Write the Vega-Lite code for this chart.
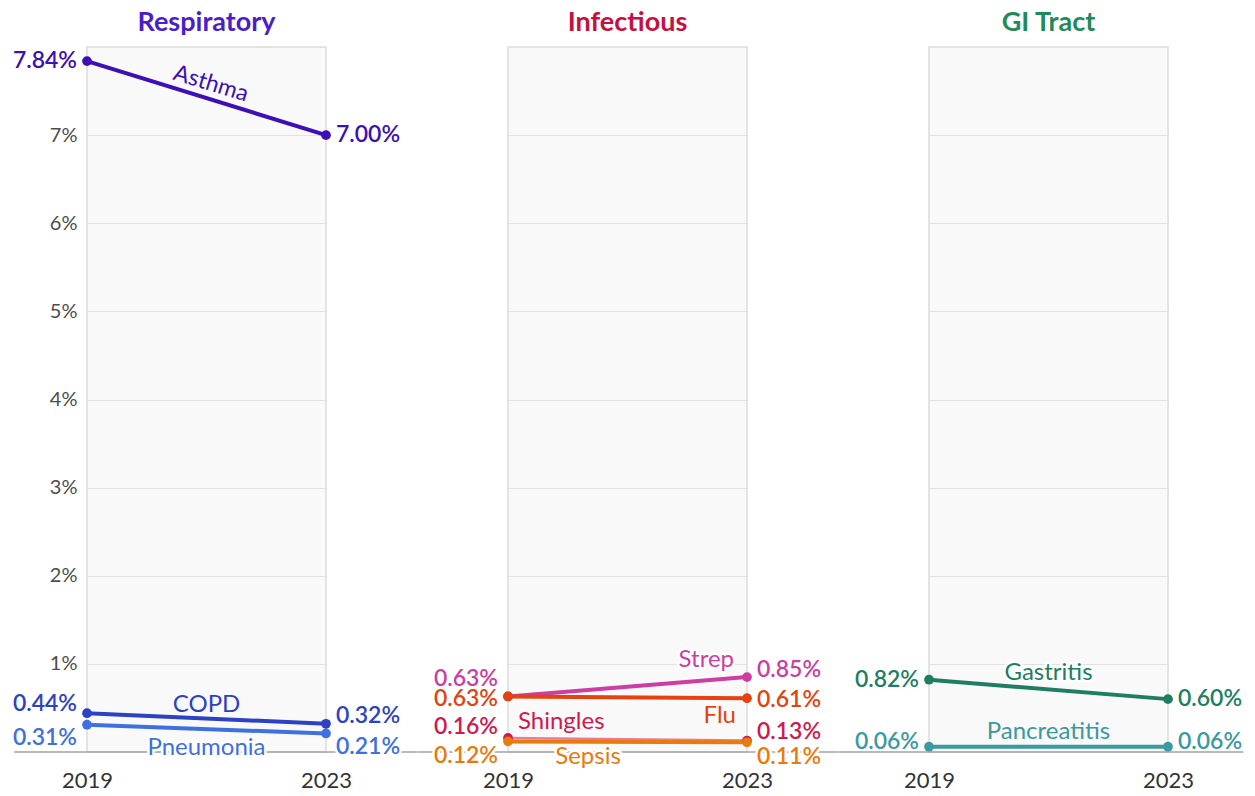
{
  "$schema": "https://vega.github.io/schema/vega-lite/v6.json",
  "padding": {"left": 12, "top": 8, "right": 5, "bottom": 3},
  "background": "white",
  "datasets": {
    "rates": [
      {"group": "Respiratory", "series": "Asthma", "year": 2019, "rate": 0.0784},
      {"group": "Respiratory", "series": "Asthma", "year": 2023, "rate": 0.0700},
      {"group": "Respiratory", "series": "Pneumonia", "year": 2019, "rate": 0.0031},
      {"group": "Respiratory", "series": "Pneumonia", "year": 2023, "rate": 0.0021},
      {"group": "Respiratory", "series": "COPD", "year": 2019, "rate": 0.0044},
      {"group": "Respiratory", "series": "COPD", "year": 2023, "rate": 0.0032},
      {"group": "Infectious", "series": "Strep", "year": 2019, "rate": 0.0063},
      {"group": "Infectious", "series": "Strep", "year": 2023, "rate": 0.0085},
      {"group": "Infectious", "series": "Shingles", "year": 2019, "rate": 0.0016},
      {"group": "Infectious", "series": "Shingles", "year": 2023, "rate": 0.0013},
      {"group": "Infectious", "series": "Flu", "year": 2019, "rate": 0.0063},
      {"group": "Infectious", "series": "Flu", "year": 2023, "rate": 0.0061},
      {"group": "Infectious", "series": "Sepsis", "year": 2019, "rate": 0.0012},
      {"group": "Infectious", "series": "Sepsis", "year": 2023, "rate": 0.0011},
      {"group": "GI Tract", "series": "Pancreatitis", "year": 2019, "rate": 0.0006},
      {"group": "GI Tract", "series": "Pancreatitis", "year": 2023, "rate": 0.0006},
      {"group": "GI Tract", "series": "Gastritis", "year": 2019, "rate": 0.0082},
      {"group": "GI Tract", "series": "Gastritis", "year": 2023, "rate": 0.0060}
    ]
  },
  "spacing": 182,
  "bounds": "flush",
  "hconcat": [
    {
      "width": 239,
      "height": 705,
      "title": {"text": "Respiratory", "color": "#4a1ec8", "fontSize": 27, "fontWeight": "bold", "frame": "group", "anchor": "middle", "offset": 10},
      "layer": [
        {
          "data": {"values": [{}]},
          "mark": {"type": "rule", "color": "#a3a3a3", "strokeWidth": 1.5},
          "encoding": {
            "x": {"datum": 2017.78, "type": "quantitative", "title": null, "scale": {"domain": [2019, 2023]}},
            "x2": {"datum": 2024.52},
            "y": {"datum": 0, "type": "quantitative", "title": null, "scale": {"domain": [0, 0.08], "nice": false}}
          }
        },
        {
          "data": {"name": "rates"},
          "transform": [{"filter": "datum.group == 'Respiratory'"}],
          "encoding": {
            "x": {"field": "year", "type": "quantitative", "title": null, "scale": {"domain": [2019, 2023]},
              "axis": {"values": [2019, 2023], "format": "d", "domain": false, "ticks": false, "grid": false, "labelFontSize": 22, "labelColor": "#333333", "labelPadding": 18, "labelFlush": false, "labelOverlap": false}},
            "y": {"field": "rate", "type": "quantitative", "title": null, "scale": {"domain": [0, 0.08], "nice": false},
              "axis": {"values": [0.01, 0.02, 0.03, 0.04, 0.05, 0.06, 0.07], "format": ".0%", "domain": false, "ticks": false, "grid": true, "gridColor": "#e1e1e1", "labelFontSize": 20, "labelColor": "#4d4d4d", "labelPadding": 10}},
            "color": {"field": "series", "type": "nominal", "legend": null,
              "scale": {"domain": ["Asthma", "COPD", "Pneumonia", "Strep", "Flu", "Shingles", "Sepsis", "Gastritis", "Pancreatitis"],
                "range": ["#3c10b4", "#2c42c2", "#3e70e0", "#cc3ea2", "#e5420f", "#d2194f", "#ea7a0c", "#1e7e62", "#3a9aa0"]}}
          },
          "layer": [
            {"mark": {"type": "line", "strokeWidth": 4}},
            {"mark": {"type": "point", "filled": true, "size": 95, "opacity": 1}},
            {"transform": [{"filter": "datum.year == 2019 && datum.series == 'Asthma'"}], "mark": {"type": "text", "align": "right", "dx": -10, "dy": 0, "fontSize": 23, "fontWeight": 600}, "encoding": {"text": {"field": "rate", "format": ".2%"}}},
            {"transform": [{"filter": "datum.year == 2019 && datum.series == 'COPD'"}], "mark": {"type": "text", "align": "right", "dx": -10, "dy": -9, "fontSize": 23, "fontWeight": 600}, "encoding": {"text": {"field": "rate", "format": ".2%"}}},
            {"transform": [{"filter": "datum.year == 2019 && datum.series == 'Pneumonia'"}], "mark": {"type": "text", "align": "right", "dx": -10, "dy": 13, "fontSize": 23, "fontWeight": 600}, "encoding": {"text": {"field": "rate", "format": ".2%"}}},
            {"transform": [{"filter": "datum.year == 2023 && datum.series == 'Asthma'"}], "mark": {"type": "text", "align": "left", "dx": 10, "dy": 0, "fontSize": 23, "fontWeight": 600}, "encoding": {"text": {"field": "rate", "format": ".2%"}}},
            {"transform": [{"filter": "datum.year == 2023 && datum.series == 'COPD'"}], "mark": {"type": "text", "align": "left", "dx": 10, "dy": -8, "fontSize": 23, "fontWeight": 600}, "encoding": {"text": {"field": "rate", "format": ".2%"}}},
            {"transform": [{"filter": "datum.year == 2023 && datum.series == 'Pneumonia'"}], "mark": {"type": "text", "align": "left", "dx": 10, "dy": 14, "fontSize": 23, "fontWeight": 600, "stroke": "white", "strokeWidth": 5, "strokeJoin": "round"}, "encoding": {"text": {"field": "rate", "format": ".2%"}}},
            {"transform": [{"filter": "datum.year == 2023 && datum.series == 'Pneumonia'"}], "mark": {"type": "text", "align": "left", "dx": 10, "dy": 14, "fontSize": 23, "fontWeight": 600}, "encoding": {"text": {"field": "rate", "format": ".2%"}}},
            {"transform": [{"filter": "datum.series == 'Asthma'"}, {"joinaggregate": [{"op": "mean", "field": "rate", "as": "mid"}]}, {"filter": "datum.year == 2019"}], "mark": {"type": "text", "align": "center", "dy": -15, "angle": 17, "fontSize": 23}, "encoding": {"x": {"datum": 2021, "type": "quantitative"}, "y": {"field": "mid", "type": "quantitative"}, "text": {"field": "series"}}},
            {"transform": [{"filter": "datum.series == 'COPD'"}, {"joinaggregate": [{"op": "mean", "field": "rate", "as": "mid"}]}, {"filter": "datum.year == 2019"}], "mark": {"type": "text", "align": "center", "dy": -14, "fontSize": 24}, "encoding": {"x": {"datum": 2021, "type": "quantitative"}, "y": {"field": "mid", "type": "quantitative"}, "text": {"field": "series"}}},
            {"transform": [{"filter": "datum.series == 'Pneumonia'"}, {"joinaggregate": [{"op": "mean", "field": "rate", "as": "mid"}]}, {"filter": "datum.year == 2019"}], "mark": {"type": "text", "align": "center", "dy": 19, "fontSize": 24, "stroke": "white", "strokeWidth": 5, "strokeJoin": "round"}, "encoding": {"x": {"datum": 2021, "type": "quantitative"}, "y": {"field": "mid", "type": "quantitative"}, "text": {"field": "series"}}},
            {"transform": [{"filter": "datum.series == 'Pneumonia'"}, {"joinaggregate": [{"op": "mean", "field": "rate", "as": "mid"}]}, {"filter": "datum.year == 2019"}], "mark": {"type": "text", "align": "center", "dy": 19, "fontSize": 24}, "encoding": {"x": {"datum": 2021, "type": "quantitative"}, "y": {"field": "mid", "type": "quantitative"}, "text": {"field": "series"}}}
          ]
        }
      ]
    },
    {
      "width": 239,
      "height": 705,
      "title": {"text": "Infectious", "color": "#c8103e", "fontSize": 27, "fontWeight": "bold", "frame": "group", "anchor": "middle", "offset": 10},
      "layer": [
        {
          "data": {"values": [{}]},
          "mark": {"type": "rule", "color": "#a3a3a3", "strokeWidth": 1.5},
          "encoding": {
            "x": {"datum": 2017.48, "type": "quantitative", "title": null, "scale": {"domain": [2019, 2023]}},
            "x2": {"datum": 2024.52},
            "y": {"datum": 0, "type": "quantitative", "title": null, "scale": {"domain": [0, 0.08], "nice": false}}
          }
        },
        {
          "data": {"name": "rates"},
          "transform": [{"filter": "datum.group == 'Infectious'"}],
          "encoding": {
            "x": {"field": "year", "type": "quantitative", "title": null, "scale": {"domain": [2019, 2023]},
              "axis": {"values": [2019, 2023], "format": "d", "domain": false, "ticks": false, "grid": false, "labelFontSize": 22, "labelColor": "#333333", "labelPadding": 18, "labelFlush": false, "labelOverlap": false}},
            "y": {"field": "rate", "type": "quantitative", "title": null, "scale": {"domain": [0, 0.08], "nice": false},
              "axis": {"values": [0.01, 0.02, 0.03, 0.04, 0.05, 0.06, 0.07], "labels": false, "domain": false, "ticks": false, "grid": true, "gridColor": "#e1e1e1"}},
            "color": {"field": "series", "type": "nominal", "legend": null,
              "scale": {"domain": ["Asthma", "COPD", "Pneumonia", "Strep", "Flu", "Shingles", "Sepsis", "Gastritis", "Pancreatitis"],
                "range": ["#3c10b4", "#2c42c2", "#3e70e0", "#cc3ea2", "#e5420f", "#d2194f", "#ea7a0c", "#1e7e62", "#3a9aa0"]}}
          },
          "layer": [
            {"transform": [{"filter": "datum.series == 'Shingles'"}], "mark": {"type": "line", "strokeWidth": 2.5, "opacity": 0.55}},
            {"transform": [{"filter": "datum.series != 'Shingles'"}], "mark": {"type": "line", "strokeWidth": 4}},
            {"mark": {"type": "point", "filled": true, "size": 95, "opacity": 1}},
            {"transform": [{"filter": "datum.year == 2019 && datum.series == 'Strep'"}], "mark": {"type": "text", "align": "right", "dx": -10, "dy": -17, "fontSize": 23, "fontWeight": 600}, "encoding": {"text": {"field": "rate", "format": ".2%"}}},
            {"transform": [{"filter": "datum.year == 2019 && datum.series == 'Flu'"}], "mark": {"type": "text", "align": "right", "dx": -10, "dy": 3, "fontSize": 23, "fontWeight": 600}, "encoding": {"text": {"field": "rate", "format": ".2%"}}},
            {"transform": [{"filter": "datum.year == 2019 && datum.series == 'Shingles'"}], "mark": {"type": "text", "align": "right", "dx": -10, "dy": -11, "fontSize": 23, "fontWeight": 600}, "encoding": {"text": {"field": "rate", "format": ".2%"}}},
            {"transform": [{"filter": "datum.year == 2019 && datum.series == 'Sepsis'"}], "mark": {"type": "text", "align": "right", "dx": -10, "dy": 15, "fontSize": 23, "fontWeight": 600, "stroke": "white", "strokeWidth": 5, "strokeJoin": "round"}, "encoding": {"text": {"field": "rate", "format": ".2%"}}},
            {"transform": [{"filter": "datum.year == 2019 && datum.series == 'Sepsis'"}], "mark": {"type": "text", "align": "right", "dx": -10, "dy": 15, "fontSize": 23, "fontWeight": 600}, "encoding": {"text": {"field": "rate", "format": ".2%"}}},
            {"transform": [{"filter": "datum.year == 2023 && datum.series == 'Strep'"}], "mark": {"type": "text", "align": "left", "dx": 10, "dy": -7, "fontSize": 23, "fontWeight": 600}, "encoding": {"text": {"field": "rate", "format": ".2%"}}},
            {"transform": [{"filter": "datum.year == 2023 && datum.series == 'Flu'"}], "mark": {"type": "text", "align": "left", "dx": 10, "dy": 2, "fontSize": 23, "fontWeight": 600}, "encoding": {"text": {"field": "rate", "format": ".2%"}}},
            {"transform": [{"filter": "datum.year == 2023 && datum.series == 'Shingles'"}], "mark": {"type": "text", "align": "left", "dx": 10, "dy": -9, "fontSize": 23, "fontWeight": 600}, "encoding": {"text": {"field": "rate", "format": ".2%"}}},
            {"transform": [{"filter": "datum.year == 2023 && datum.series == 'Sepsis'"}], "mark": {"type": "text", "align": "left", "dx": 10, "dy": 15, "fontSize": 23, "fontWeight": 600, "stroke": "white", "strokeWidth": 5, "strokeJoin": "round"}, "encoding": {"text": {"field": "rate", "format": ".2%"}}},
            {"transform": [{"filter": "datum.year == 2023 && datum.series == 'Sepsis'"}], "mark": {"type": "text", "align": "left", "dx": 10, "dy": 15, "fontSize": 23, "fontWeight": 600}, "encoding": {"text": {"field": "rate", "format": ".2%"}}},
            {"transform": [{"filter": "datum.year == 2023 && datum.series == 'Strep'"}], "mark": {"type": "text", "align": "right", "dx": -13, "dy": -17, "fontSize": 24, "stroke": "white", "strokeWidth": 5, "strokeJoin": "round"}, "encoding": {"text": {"field": "series"}}},
            {"transform": [{"filter": "datum.year == 2023 && datum.series == 'Strep'"}], "mark": {"type": "text", "align": "right", "dx": -13, "dy": -17, "fontSize": 24}, "encoding": {"text": {"field": "series"}}},
            {"transform": [{"filter": "datum.year == 2023 && datum.series == 'Flu'"}], "mark": {"type": "text", "align": "right", "dx": -11, "dy": 18, "fontSize": 24}, "encoding": {"text": {"field": "series"}}},
            {"transform": [{"filter": "datum.year == 2019 && datum.series == 'Shingles'"}], "mark": {"type": "text", "align": "left", "dx": 10, "dy": -16, "fontSize": 24}, "encoding": {"text": {"field": "series"}}},
            {"transform": [{"filter": "datum.year == 2019 && datum.series == 'Sepsis'"}], "mark": {"type": "text", "align": "center", "dx": 80, "dy": 16, "fontSize": 24, "stroke": "white", "strokeWidth": 5, "strokeJoin": "round"}, "encoding": {"text": {"field": "series"}}},
            {"transform": [{"filter": "datum.year == 2019 && datum.series == 'Sepsis'"}], "mark": {"type": "text", "align": "center", "dx": 80, "dy": 16, "fontSize": 24}, "encoding": {"text": {"field": "series"}}}
          ]
        }
      ]
    },
    {
      "width": 239,
      "height": 705,
      "title": {"text": "GI Tract", "color": "#1f8a5a", "fontSize": 27, "fontWeight": "bold", "frame": "group", "anchor": "middle", "offset": 10},
      "layer": [
        {
          "data": {"values": [{}]},
          "mark": {"type": "rule", "color": "#a3a3a3", "strokeWidth": 1.5},
          "encoding": {
            "x": {"datum": 2017.48, "type": "quantitative", "title": null, "scale": {"domain": [2019, 2023]}},
            "x2": {"datum": 2024.26},
            "y": {"datum": 0, "type": "quantitative", "title": null, "scale": {"domain": [0, 0.08], "nice": false}}
          }
        },
        {
          "data": {"name": "rates"},
          "transform": [{"filter": "datum.group == 'GI Tract'"}],
          "encoding": {
            "x": {"field": "year", "type": "quantitative", "title": null, "scale": {"domain": [2019, 2023]},
              "axis": {"values": [2019, 2023], "format": "d", "domain": false, "ticks": false, "grid": false, "labelFontSize": 22, "labelColor": "#333333", "labelPadding": 18, "labelFlush": false, "labelOverlap": false}},
            "y": {"field": "rate", "type": "quantitative", "title": null, "scale": {"domain": [0, 0.08], "nice": false},
              "axis": {"values": [0.01, 0.02, 0.03, 0.04, 0.05, 0.06, 0.07], "labels": false, "domain": false, "ticks": false, "grid": true, "gridColor": "#e1e1e1"}},
            "color": {"field": "series", "type": "nominal", "legend": null,
              "scale": {"domain": ["Asthma", "COPD", "Pneumonia", "Strep", "Flu", "Shingles", "Sepsis", "Gastritis", "Pancreatitis"],
                "range": ["#3c10b4", "#2c42c2", "#3e70e0", "#cc3ea2", "#e5420f", "#d2194f", "#ea7a0c", "#1e7e62", "#3a9aa0"]}}
          },
          "layer": [
            {"mark": {"type": "line", "strokeWidth": 4}},
            {"mark": {"type": "point", "filled": true, "size": 95, "opacity": 1}},
            {"transform": [{"filter": "datum.year == 2019 && datum.series == 'Gastritis'"}], "mark": {"type": "text", "align": "right", "dx": -10, "dy": 0, "fontSize": 23, "fontWeight": 600}, "encoding": {"text": {"field": "rate", "format": ".2%"}}},
            {"transform": [{"filter": "datum.year == 2019 && datum.series == 'Pancreatitis'"}], "mark": {"type": "text", "align": "right", "dx": -10, "dy": -5, "fontSize": 23, "fontWeight": 600}, "encoding": {"text": {"field": "rate", "format": ".2%"}}},
            {"transform": [{"filter": "datum.year == 2023 && datum.series == 'Gastritis'"}], "mark": {"type": "text", "align": "left", "dx": 10, "dy": 0, "fontSize": 23, "fontWeight": 600}, "encoding": {"text": {"field": "rate", "format": ".2%"}}},
            {"transform": [{"filter": "datum.year == 2023 && datum.series == 'Pancreatitis'"}], "mark": {"type": "text", "align": "left", "dx": 10, "dy": -5, "fontSize": 23, "fontWeight": 600}, "encoding": {"text": {"field": "rate", "format": ".2%"}}},
            {"transform": [{"filter": "datum.series == 'Gastritis'"}, {"joinaggregate": [{"op": "mean", "field": "rate", "as": "mid"}]}, {"filter": "datum.year == 2019"}], "mark": {"type": "text", "align": "center", "dy": -16, "fontSize": 24, "stroke": "white", "strokeWidth": 5, "strokeJoin": "round"}, "encoding": {"x": {"datum": 2021, "type": "quantitative"}, "y": {"field": "mid", "type": "quantitative"}, "text": {"field": "series"}}},
            {"transform": [{"filter": "datum.series == 'Gastritis'"}, {"joinaggregate": [{"op": "mean", "field": "rate", "as": "mid"}]}, {"filter": "datum.year == 2019"}], "mark": {"type": "text", "align": "center", "dy": -16, "fontSize": 24}, "encoding": {"x": {"datum": 2021, "type": "quantitative"}, "y": {"field": "mid", "type": "quantitative"}, "text": {"field": "series"}}},
            {"transform": [{"filter": "datum.series == 'Pancreatitis'"}, {"joinaggregate": [{"op": "mean", "field": "rate", "as": "mid"}]}, {"filter": "datum.year == 2019"}], "mark": {"type": "text", "align": "center", "dy": -15, "fontSize": 24}, "encoding": {"x": {"datum": 2021, "type": "quantitative"}, "y": {"field": "mid", "type": "quantitative"}, "text": {"field": "series"}}}
          ]
        }
      ]
    }
  ],
  "config": {
    "font": "Lato",
    "view": {"fill": "#f9f9f9", "stroke": "#dcdcdc", "strokeWidth": 1.5},
    "axis": {"labelFont": "Lato"},
    "title": {"font": "Lato"}
  }
}
